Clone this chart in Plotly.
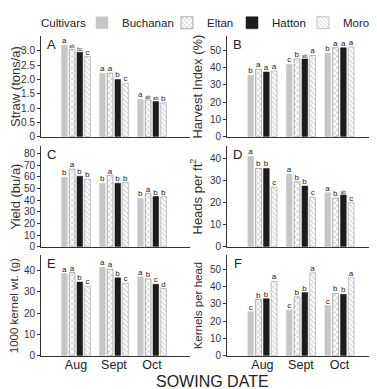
import plotly.graph_objects as go

months = ["Aug", "Sept", "Oct"]
cultivars = ["Buchanan", "Eltan", "Hatton", "Moro"]

# values per cultivar (Buchanan, Eltan, Hatton, Moro), each over Aug/Sept/Oct
straw = [[3.2, 2.22, 1.3], [3.05, 2.22, 1.28], [2.95, 2.0, 1.23], [2.8, 1.87, 1.18]]
straw_letters = [["a", "a", "a"], ["ab", "a", "ab"], ["bc", "b", "ab"], ["c", "c", "b"]]

harvest_index = [[35.5, 42, 48.5], [39, 45, 51.5], [37.5, 45, 51.5], [38, 47, 52]]
harvest_letters = [["b", "c", "b"], ["a", "b", "a"], ["a", "ab", "a"], ["a", "a", "a"]]

yield_bu = [[59.5, 54.5, 41.5], [66.5, 61, 45.5], [60.5, 54.5, 43], [58, 55, 43]]
yield_letters = [["b", "b", "b"], ["a", "a", "a"], ["b", "b", "b"], ["b", "b", "b"]]

heads = [[41, 33, 24.5], [35.5, 29.5, 22], [35.5, 27.5, 23.5], [27, 22.5, 20]]
heads_letters = [["a", "a", "a"], ["b", "b", "b"], ["b", "b", "ab"], ["c", "c", "c"]]

kernel_wt = [[38.5, 41.5, 37], [39, 40.5, 36], [34.5, 36.5, 33.5], [32.5, 34, 31.5]]
kernel_wt_letters = [["a", "a", "a"], ["a", "a", "b"], ["b", "b", "c"], ["c", "c", "d"]]

kernels_head = [[25.5, 26.5, 29], [32.5, 34, 36], [33, 36.5, 35.5], [43, 48, 45]]
kernels_head_letters = [["c", "c", "c"], ["b", "b", "b"], ["b", "b", "b"], ["a", "a", "a"]]

panels = [
    ("A", "Straw (tons/a)", straw, straw_letters, [0, 3.5],
     [0, 0.5, 1.0, 1.5, 2.0, 2.5, 3.0], ["0", "0.5", "1.0", "1.5", "2.0", "2.5", "3.0"]),
    ("B", "Harvest Index (%)", harvest_index, harvest_letters, [0, 58],
     [0, 10, 20, 30, 40, 50], None),
    ("C", "Yield (bu/a)", yield_bu, yield_letters, [0, 86],
     [0, 10, 20, 30, 40, 50, 60, 70, 80], None),
    ("D", "Heads per ft<sup>2</sup>", heads, heads_letters, [0, 45.5],
     [0, 10, 20, 30, 40], None),
    ("E", "1000 kernel wt. (g)", kernel_wt, kernel_wt_letters, [0, 47],
     [0, 10, 20, 30, 40], None),
    ("F", "Kernels per head", kernels_head, kernels_head_letters, [0, 58],
     [0, 10, 20, 30, 40, 50], None),
]

W, H = 377, 389
col_px = [(33, 182), (219, 370)]
row_px = [(28, 130), (140, 242), (251, 353)]
legend_text_px = [112, 197, 262, 333]

styles = [
    dict(color="#c6c6c6", line=dict(color="#c6c6c6", width=0.5)),
    dict(color="white", line=dict(color="#7a7a7a", width=0.6),
         pattern=dict(shape="x", fgcolor="#7a7a7a", bgcolor="white", size=4, solidity=0.3)),
    dict(color="#1c1c1c", line=dict(color="#1c1c1c", width=0.5)),
    dict(color="white", line=dict(color="#9a9a9a", width=0.6),
         pattern=dict(shape="\\", fgcolor="#9a9a9a", bgcolor="white", size=3.5, solidity=0.3)),
]

FONT = "Liberation Sans, Arial, sans-serif"
fig = go.Figure()
layout = {}
for i, (letter, title, vals, lets, yr, tv, tt) in enumerate(panels):
    r, c = divmod(i, 2)
    n = i + 1
    xa = "x" if n == 1 else f"x{n}"
    ya = "y" if n == 1 else f"y{n}"
    for k, cv in enumerate(cultivars):
        fig.add_trace(go.Bar(
            x=months, y=vals[k], name=cv, text=lets[k], textposition="outside",
            textfont=dict(size=8, color="#222", family=FONT), cliponaxis=False,
            marker=styles[k], xaxis=xa, yaxis=ya, showlegend=(i == 0),
            legend="legend" if k == 0 else f"legend{k + 1}",
        ))
    x0, x1 = col_px[c]
    y0, y1 = row_px[r]
    layout[f"xaxis{'' if n == 1 else n}"] = dict(
        domain=[x0 / W, x1 / W], anchor=ya, range=[-0.92, 3.0],
        showline=True, linecolor="#333", linewidth=1, ticks="",
        showticklabels=(r == 2), tickfont=dict(size=12.5, color="#222", family=FONT),
        ticklabelstandoff=-3,
        showgrid=False, zeroline=False, fixedrange=True,
    )
    layout[f"yaxis{'' if n == 1 else n}"] = dict(
        domain=[1 - y1 / H, 1 - y0 / H], anchor=xa, range=yr,
        showline=True, linecolor="#333", linewidth=1, ticks="outside", ticklen=3,
        tickcolor="#333", tickvals=tv, ticktext=tt,
        tickfont=dict(size=10, color="#333", family=FONT),
        title=dict(text=title, font=dict(size=13 if r < 2 else 11.5, color="#333", family=FONT),
                   standoff=4),
        showgrid=False, zeroline=False, fixedrange=True,
    )
    fig.add_annotation(text=letter, xref=f"{xa} domain", yref=f"{ya} domain",
                       x=0.07, y=0.92, showarrow=False, xanchor="center", yanchor="middle",
                       font=dict(size=13, color="#222", family=FONT))

fig.add_annotation(text="Cultivars", xref="paper", yref="paper", x=31 / W, y=1 - 14 / H,
                   showarrow=False, xanchor="left", yanchor="middle",
                   font=dict(size=11.5, color="#222", family=FONT))
fig.add_annotation(text="SOWING DATE", xref="paper", yref="paper", x=205 / W, y=0,
                   showarrow=False, xanchor="center", yanchor="bottom", yshift=-1,
                   font=dict(size=16, color="#222", family=FONT))

for k in range(4):
    key = "legend" if k == 0 else f"legend{k + 1}"
    layout[key] = dict(
        orientation="h", x=(legend_text_px[k] - 38) / W, y=1 - 14 / H,
        xanchor="left", yanchor="middle", font=dict(size=11.5, color="#222", family=FONT),
        bgcolor="rgba(0,0,0,0)", itemwidth=30,
    )

fig.update_layout(
    **layout,
    width=W, height=H, margin=dict(l=0, r=0, t=0, b=0),
    paper_bgcolor="white", plot_bgcolor="white",
    barmode="group", bargap=0.19, bargroupgap=0.26,
    font=dict(family=FONT, color="#333"),
)

fig.write_html("out.html")
